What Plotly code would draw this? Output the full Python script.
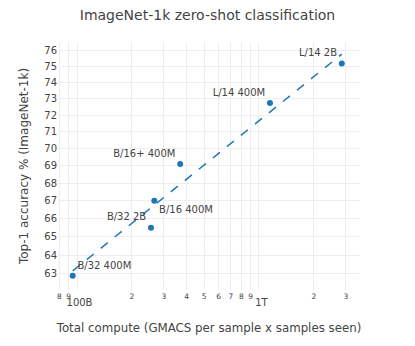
import plotly.graph_objects as go

models = ["B/32 400M", "B/32 2B", "B/16 400M", "B/16+ 400M", "L/14 400M", "L/14 2B"]
compute = [9.47e10, 2.55e11, 2.66e11, 3.69e11, 1.149e12, 2.85e12]
accuracy = [62.9, 65.5, 67.0, 69.1, 72.75, 75.2]
text_pos = ["top right", "top left", "bottom right", "top left", "top left", "top left"]

trend_compute = [9.47e10, 2.85e12]
trend_accuracy = [63.16, 75.8]

y_ticks = list(range(63, 77))

FONT = "DejaVu Sans"
BLUE = "#1f77b4"
GRID = "#eeeeee"

fig = go.Figure()
fig.add_trace(go.Scatter(
    x=trend_compute, y=trend_accuracy, mode="lines",
    line=dict(color=BLUE, width=1.5, dash="dash"),
    showlegend=False, hoverinfo="skip",
))
fig.add_trace(go.Scatter(
    x=compute, y=accuracy, mode="markers+text",
    text=models, textposition=text_pos,
    textfont=dict(family=FONT, size=10, color="#444"),
    marker=dict(color=BLUE, size=6),
    showlegend=False,
))

fig.update_layout(
    width=415, height=346,
    margin=dict(l=58, r=55, t=42, b=56),
    paper_bgcolor="white", plot_bgcolor="white",
    font=dict(family=FONT, color="#444"),
    title=dict(text="ImageNet-1k zero-shot classification", x=0.5, xanchor="center",
               y=0.955, yanchor="middle", font=dict(family=FONT, size=14, color="#444")),
)
fig.update_xaxes(
    type="log", range=[10.8956, 12.555], dtick="D1", automargin=False,
    showgrid=True, gridcolor=GRID, zeroline=False, showline=False,
    tickfont=dict(family=FONT, size=10, color="#444"),
    title=dict(text="Total compute (GMACS per sample x samples seen)",
               font=dict(family=FONT, size=11.8, color="#444"), standoff=16),
)
fig.update_yaxes(
    type="log", range=[1.79346, 1.88410], tickmode="array", tickvals=y_ticks,
    ticktext=[str(v) for v in y_ticks], automargin=False,
    showgrid=True, gridcolor=GRID, zeroline=False, showline=False,
    tickfont=dict(family=FONT, size=10, color="#444"),
    title=dict(text="Top-1 accuracy % (ImageNet-1k)",
               font=dict(family=FONT, size=12, color="#444"), standoff=13),
)

fig.write_html("out.html", config={"displayModeBar": False},
               post_script="document.body.style.margin='0';")
